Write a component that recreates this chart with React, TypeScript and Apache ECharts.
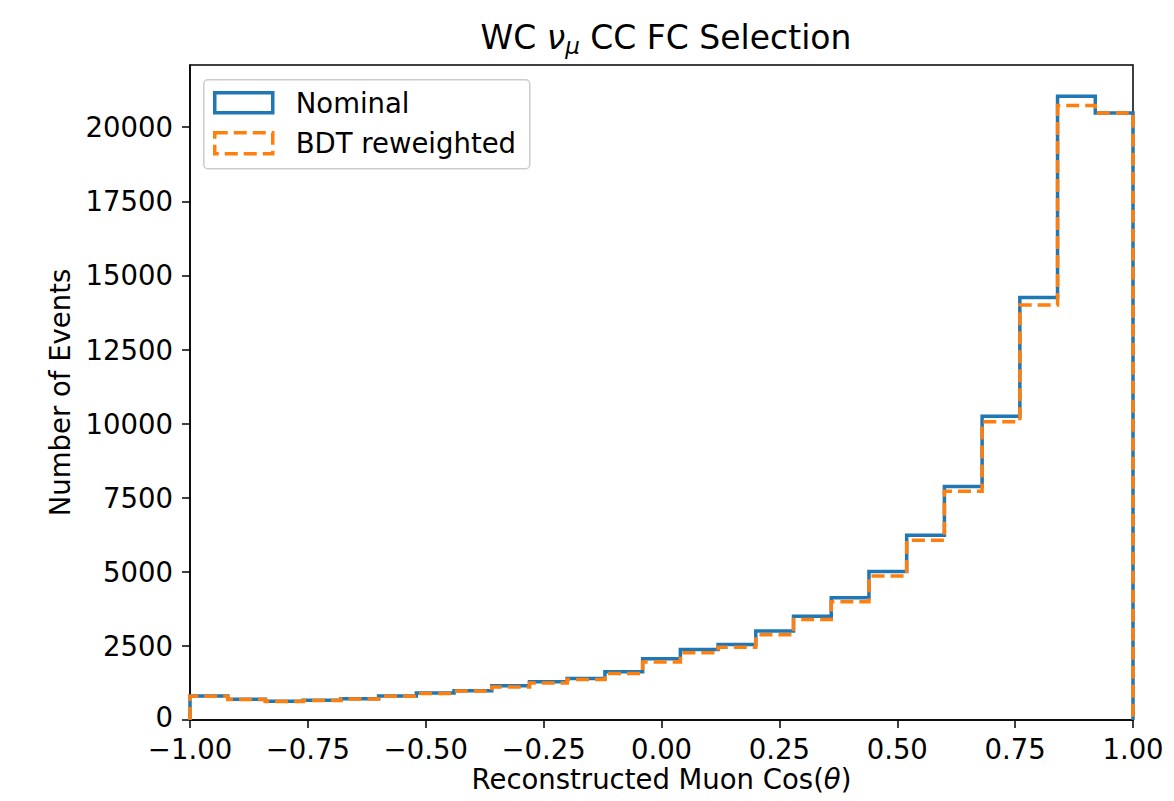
import React, { useEffect, useRef } from "react";
import * as echarts from "echarts";

const binEdges = [
  -1.0, -0.92, -0.84, -0.76, -0.68, -0.6, -0.52, -0.44, -0.36, -0.28, -0.2, -0.12, -0.04,
  0.04, 0.12, 0.2, 0.28, 0.36, 0.44, 0.52, 0.6, 0.68, 0.76, 0.84, 0.92, 1.0,
];
const nominalCounts = [
  808, 697, 635, 665, 720, 808, 910, 990, 1155, 1290, 1403, 1625, 2065,
  2380, 2550, 3005, 3500, 4125, 5010, 6235, 7875, 10250, 14255, 21045, 20480,
];
const bdtCounts = [
  800, 690, 625, 660, 712, 800, 895, 975, 1110, 1245, 1370, 1572, 1955,
  2267, 2458, 2873, 3390, 3990, 4862, 6064, 7715, 10067, 14000, 20730, 20480,
];
const yTicks = [0, 2500, 5000, 7500, 10000, 12500, 15000, 17500, 20000];
const xTicks = [-1.0, -0.75, -0.5, -0.25, 0.0, 0.25, 0.5, 0.75, 1.0];
const seriesNames = ["Nominal", "BDT reweighted"];

const FONT = "DejaVu Sans";
const BLUE = "#1f77b4";
const ORANGE = "#ff7f0e";
const FS = 27.5;

function stepPoints(edges: number[], counts: number[]) {
  const pts: number[][] = [[edges[0], 0]];
  for (let i = 0; i < counts.length; i++) {
    pts.push([edges[i], counts[i]]);
    pts.push([edges[i + 1], counts[i]]);
  }
  pts.push([edges[edges.length - 1], 0]);
  return pts;
}

const fmtX = (v: number) => v.toFixed(2).replace("-", "\u2212");

export default function App() {
  const ref = useRef<HTMLDivElement>(null);
  useEffect(() => {
    if (!ref.current) return;
    const chart = echarts.init(ref.current, undefined, { renderer: "svg" });
    chart.setOption({
      animation: false,
      backgroundColor: "#ffffff",
      textStyle: { fontFamily: FONT },
      title: {
        text: "WC {nu|\u03bd}{mu|\u03bc} CC FC Selection",
        left: 661,
        textAlign: "center",
        top: 12,
        textStyle: {
          fontFamily: FONT,
          fontSize: 33,
          fontWeight: "normal",
          color: "#000",
          lineHeight: 40,
          rich: {
            nu: { fontFamily: FONT, fontSize: 33, fontStyle: "italic", color: "#000", lineHeight: 40 },
            mu: {
              fontFamily: FONT,
              fontSize: 23,
              fontStyle: "italic",
              color: "#000",
              lineHeight: 22,
              padding: [18, 0, 0, 0],
            },
          },
        },
      },
      grid: {
        left: 190,
        right: 41,
        top: 65,
        bottom: 81,
        show: true,
        borderColor: "#000",
        borderWidth: 1.5,
        backgroundColor: "transparent",
      },
      xAxis: {
        type: "value",
        min: -1,
        max: 1,
        interval: 0.25,
        name: "Reconstructed Muon Cos({th|\u03b8})",
        nameLocation: "middle",
        nameGap: 45,
        nameMoveOverlap: false,
        nameTextStyle: {
          fontFamily: FONT,
          fontSize: FS,
          color: "#000",
          rich: { th: { fontFamily: FONT, fontSize: FS, fontStyle: "italic", color: "#000" } },
        },
        splitLine: { show: false },
        axisLine: { show: true, onZero: false, lineStyle: { color: "#000", width: 1.5 } },
        axisTick: { show: true, length: 8, lineStyle: { color: "#000", width: 1.5 }, customValues: xTicks },
        axisLabel: {
          fontFamily: FONT,
          fontSize: FS,
          color: "#000",
          margin: 15,
          formatter: fmtX,
          customValues: xTicks,
        },
      },
      yAxis: {
        type: "value",
        min: 0,
        max: 22100,
        name: "Number of Events",
        nameLocation: "middle",
        nameGap: 116,
        nameMoveOverlap: false,
        nameTextStyle: { fontFamily: FONT, fontSize: FS, color: "#000" },
        splitLine: { show: false },
        axisLine: { show: true, onZero: false, lineStyle: { color: "#000", width: 1.5 } },
        axisTick: { show: true, length: 8, lineStyle: { color: "#000", width: 1.5 }, customValues: yTicks },
        axisLabel: {
          fontFamily: FONT,
          fontSize: FS,
          color: "#000",
          margin: 17,
          customValues: yTicks,
          formatter: (v: number) => (v === 0 ? "{z|0}" : String(v)),
          rich: {
            z: { fontFamily: FONT, fontSize: FS, color: "#000", lineHeight: 22, padding: [0, 0, 6, 0] },
          },
        },
      },
      series: [
        {
          name: seriesNames[0],
          type: "line",
          data: stepPoints(binEdges, nominalCounts),
          showSymbol: false,
          symbol: "none",
          clip: false,
          lineStyle: { color: BLUE, width: 3.5, join: "miter", cap: "butt" },
          z: 3,
        },
        {
          name: seriesNames[1],
          type: "line",
          data: stepPoints(binEdges, bdtCounts),
          showSymbol: false,
          symbol: "none",
          clip: false,
          lineStyle: { color: ORANGE, width: 3.5, type: [13, 6], join: "miter", cap: "butt" },
          z: 4,
        },
      ],
      graphic: [
        {
          type: "group",
          left: 203,
          top: 79,
          z: 100,
          children: [
            {
              type: "rect",
              shape: { x: 0, y: 0, width: 326, height: 89, r: 4 },
              style: { fill: "rgba(255,255,255,0.8)", stroke: "#cccccc", lineWidth: 1.5 },
            },
            {
              type: "rect",
              shape: { x: 11, y: 13, width: 58, height: 20 },
              style: { fill: "none", stroke: BLUE, lineWidth: 3.5 },
            },
            {
              type: "rect",
              shape: { x: 11, y: 53, width: 58, height: 21 },
              style: { fill: "none", stroke: ORANGE, lineWidth: 3.5, lineDash: [13, 6] },
            },
            {
              type: "text",
              x: 92,
              y: 23,
              style: {
                text: seriesNames[0],
                fontFamily: FONT,
                fontSize: FS,
                fill: "#000",
                verticalAlign: "middle",
              },
            },
            {
              type: "text",
              x: 92,
              y: 63,
              style: {
                text: seriesNames[1],
                fontFamily: FONT,
                fontSize: FS,
                fill: "#000",
                verticalAlign: "middle",
              },
            },
          ],
        },
      ],
    });
    return () => chart.dispose();
  }, []);
  return <div ref={ref} style={{ width: 1174, height: 801, margin: -8 }} />;
}
